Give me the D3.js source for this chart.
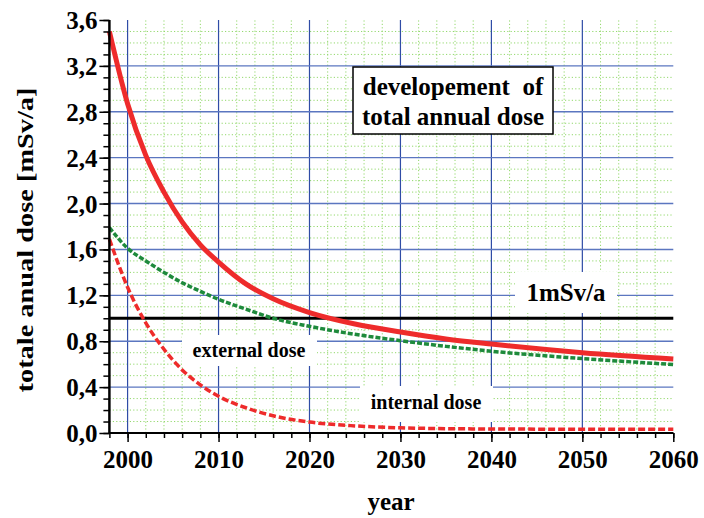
<!DOCTYPE html>
<html>
<head>
<meta charset="utf-8">
<script src="https://cdn.jsdelivr.net/npm/d3@7"></script>
<style>
  html, body { margin: 0; padding: 0; background: #fff; }
</style>
</head>
<body>
<div id="chart"></div>
<script>
// values
var years = [1998, 2000, 2002, 2004, 2006, 2008, 2010, 2013, 2016, 2020, 2025, 2030, 2035, 2040, 2050, 2060]
var totalDose = [3.50, 2.87, 2.42, 2.10, 1.84, 1.64, 1.49, 1.30, 1.17, 1.05, 0.95, 0.88, 0.82, 0.775, 0.70, 0.646]
var externalDose = [1.79, 1.61, 1.50, 1.40, 1.31, 1.235, 1.165, 1.08, 1.00, 0.93, 0.86, 0.805, 0.755, 0.713, 0.649, 0.597]
var internalDose = [1.69, 1.27, 0.96, 0.73, 0.55, 0.42, 0.32, 0.22, 0.15, 0.095, 0.062, 0.045, 0.038, 0.035, 0.033, 0.032]
var limitDose = 1.0

var xTicks = [2000, 2010, 2020, 2030, 2040, 2050, 2060]
var xMinorTicks = d3.range(1998, 2061, 2)
var yTicks = [0, 0.4, 0.8, 1.2, 1.6, 2.0, 2.4, 2.8, 3.2, 3.6]
var yMinorTicks = d3.range(0, 37).map(function(i) { return i / 10 })

var serif = "'Liberation Serif', 'Times New Roman', Times, 'DejaVu Serif', serif"

var width = 704, height = 518
var svg = d3.select("#chart").append("svg")
  .attr("width", width)
  .attr("height", height)
  .attr("font-family", serif)
  .attr("font-weight", "bold")

var x = d3.scaleLinear().domain([1998, 2060]).range([109.4, 673.3])
var y = d3.scaleLinear().domain([0, 3.6]).range([433, 20])

var fmt = function(v) { return v.toFixed(1).replace(".", ",") }

// minor grid (green dotted)
var grid = svg.append("g")
grid.selectAll(".vminor")
  .data(xMinorTicks.filter(function(d) { return d > 1998 && d % 10 !== 0 }))
  .enter().append("line")
  .attr("x1", function(d) { return x(d) }).attr("x2", function(d) { return x(d) })
  .attr("y1", y(0)).attr("y2", y(3.6))
  .style("stroke", "#93d86c").style("stroke-width", 1).style("stroke-dasharray", "1.2,2.2")
grid.selectAll(".hminor")
  .data(yMinorTicks.filter(function(d) { return d > 0 && d < 3.6 && Math.round(d * 10) % 4 !== 0 }))
  .enter().append("line")
  .attr("x1", x(1998)).attr("x2", x(2060))
  .attr("y1", function(d) { return y(d) }).attr("y2", function(d) { return y(d) })
  .style("stroke", "#93d86c").style("stroke-width", 1).style("stroke-dasharray", "1.2,2.2")

// major grid (blue)
grid.selectAll(".vmajor")
  .data(xTicks.filter(function(d) { return d < 2060 }))
  .enter().append("line")
  .attr("x1", function(d) { return x(d) }).attr("x2", function(d) { return x(d) })
  .attr("y1", y(0)).attr("y2", y(3.6))
  .style("stroke", "#2f4ca6").style("stroke-width", 1.2)
grid.selectAll(".hmajor")
  .data(yTicks.filter(function(d) { return d > 0 && d < 3.6 }))
  .enter().append("line")
  .attr("x1", x(1998)).attr("x2", x(2060))
  .attr("y1", function(d) { return y(d) }).attr("y2", function(d) { return y(d) })
  .style("stroke", "#5b76c0").style("stroke-width", 1.4)

// white boxes behind labels
var boxes = [
  { x: 182, y: 335, w: 135, h: 31 },
  { x: 360, y: 386, w: 133, h: 36 },
  { x: 515, y: 272, w: 102, h: 41 }
]
svg.selectAll(".labelbox")
  .data(boxes)
  .enter().append("rect")
  .attr("x", function(d) { return d.x }).attr("y", function(d) { return d.y })
  .attr("width", function(d) { return d.w }).attr("height", function(d) { return d.h })
  .style("fill", "#fff")

// 1 mSv/a limit
svg.append("line")
  .attr("x1", x(1998)).attr("x2", x(2060))
  .attr("y1", y(limitDose)).attr("y2", y(limitDose))
  .style("stroke", "#000").style("stroke-width", 3)

// curves
var line = function(values) {
  return d3.line()
    .x(function(d, i) { return x(years[i]) })
    .y(function(d) { return y(d) })
    .curve(d3.curveMonotoneX)(values)
}
svg.append("path").attr("d", line(internalDose))
  .style("fill", "none").style("stroke", "#ee2b2b").style("stroke-width", 3.5).style("stroke-dasharray", "7,3")
svg.append("path").attr("d", line(externalDose))
  .style("fill", "none").style("stroke", "#1e8a3c").style("stroke-width", 3.5).style("stroke-dasharray", "5,2")
svg.append("path").attr("d", line(totalDose))
  .style("fill", "none").style("stroke", "#ee2b2b").style("stroke-width", 5)

// y axis
var yAxis = svg.append("g").attr("transform", "translate(" + x(1998) + ",0)")
yAxis.call(d3.axisLeft(y).tickValues(yMinorTicks).tickSize(6).tickFormat(""))
yAxis.append("g").call(d3.axisLeft(y).tickValues(yTicks).tickSize(10).tickFormat(fmt))
yAxis.selectAll("path.domain").style("stroke", "#000").style("stroke-width", 2).attr("d", "M0," + y(3.6) + "V" + y(0))
yAxis.selectAll("line").style("stroke", "#000").style("stroke-width", 1.5)
yAxis.selectAll("text")
  .attr("x", -12).attr("dy", "0.34em")
  .style("font-family", serif).style("font-weight", "bold").style("font-size", "25px")

// x axis
var xAxis = svg.append("g").attr("transform", "translate(0," + y(0) + ")")
xAxis.call(d3.axisBottom(x).tickValues(xMinorTicks).tickSize(5).tickFormat(""))
xAxis.append("g").call(d3.axisBottom(x).tickValues(xTicks).tickSize(9).tickFormat(d3.format("d")))
xAxis.selectAll("path.domain").style("stroke", "#000").style("stroke-width", 2).attr("d", "M" + x(1998) + ",0H" + x(2060))
xAxis.selectAll("line").style("stroke", "#000").style("stroke-width", 1.5)
xAxis.selectAll("text")
  .attr("y", 35).attr("dy", 0)
  .style("font-family", serif).style("font-weight", "bold").style("font-size", "25px")

// axis titles
svg.append("text")
  .attr("transform", "translate(33,240) rotate(-90)")
  .attr("text-anchor", "middle")
  .attr("textLength", 305).attr("lengthAdjust", "spacingAndGlyphs")
  .style("font-size", "24px")
  .text("totale anual dose [mSv/a]")
svg.append("text")
  .attr("x", 391).attr("y", 510)
  .attr("text-anchor", "middle")
  .style("font-size", "25px")
  .text("year")

// title box
svg.append("rect")
  .attr("x", 353).attr("y", 67).attr("width", 200).attr("height", 67)
  .style("fill", "#fff").style("stroke", "#000").style("stroke-width", 1.5)
svg.append("text")
  .attr("x", 453).attr("y", 95).attr("text-anchor", "middle")
  .style("font-size", "25px")
  .text("developement\u00a0 of")
svg.append("text")
  .attr("x", 453).attr("y", 125).attr("text-anchor", "middle")
  .style("font-size", "25px")
  .text("total annual dose")

// annotations
svg.append("text")
  .attr("x", 566).attr("y", 301).attr("text-anchor", "middle")
  .style("font-size", "25px")
  .text("1mSv/a")
svg.append("text")
  .attr("x", 249).attr("y", 357).attr("text-anchor", "middle")
  .style("font-size", "20px")
  .text("external dose")
svg.append("text")
  .attr("x", 426).attr("y", 409).attr("text-anchor", "middle")
  .style("font-size", "20px")
  .text("internal dose")
</script>
</body>
</html>
